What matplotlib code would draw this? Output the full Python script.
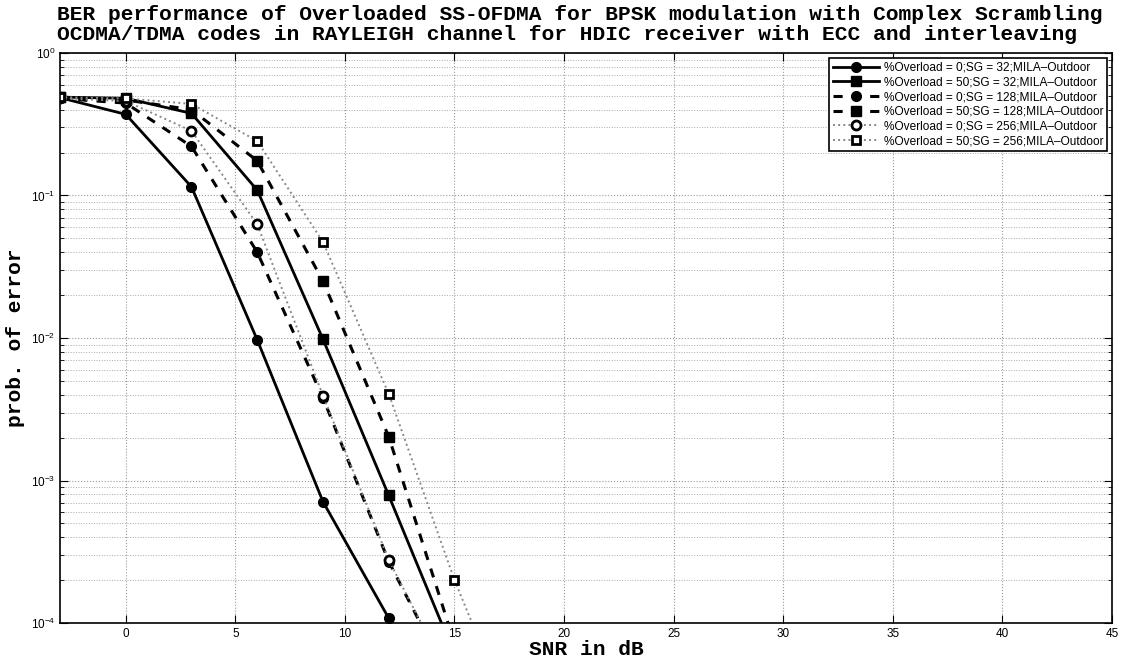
import numpy as np
import matplotlib
matplotlib.use('Agg')
import matplotlib.pyplot as plt
from matplotlib.ticker import LogLocator, NullFormatter

# SNR points (dB) and simulated bit error rates
snr = [-3, 0, 3, 6, 9, 12, 15, 18]

ber_0_sg32 = [0.486, 0.371, 0.115, 0.0097, 7.1e-4, 1.08e-4, 2e-6, 1e-7]
ber_50_sg32 = [0.49, 0.481, 0.377, 0.109, 0.0098, 7.85e-4, 6e-5, 4e-6]
ber_0_sg128 = [0.48, 0.445, 0.221, 0.040, 0.0038, 2.7e-4, 3.4e-5, 2e-6]
ber_50_sg128 = [0.49, 0.468, 0.40, 0.175, 0.0251, 2.03e-3, 7.2e-5, 5e-6]
ber_0_sg256 = [0.48, 0.46, 0.284, 0.0628, 0.00394, 2.77e-4, 3.5e-5, 2e-6]
ber_50_sg256 = [0.49, 0.48, 0.439, 0.241, 0.0472, 4.05e-3, 2.0e-4, 1.5e-5]

labels = ['%Overload = 0;SG = 32;MILA–Outdoor',
          '%Overload = 50;SG = 32;MILA–Outdoor',
          '%Overload = 0;SG = 128;MILA–Outdoor',
          '%Overload = 50;SG = 128;MILA–Outdoor',
          '%Overload = 0;SG = 256;MILA–Outdoor',
          '%Overload = 50;SG = 256;MILA–Outdoor']

plt.rcParams['font.family'] = ['Liberation Sans', 'DejaVu Sans']

fig = plt.figure(figsize=(11.21, 6.59), dpi=100)
ax = fig.add_axes([0.0535, 0.0546, 0.9385, 0.865])

ax.semilogy(snr, ber_0_sg32, 'k-', lw=2, marker='o', ms=7, label=labels[0])
ax.semilogy(snr, ber_50_sg32, 'k-', lw=2, marker='s', ms=6.5, label=labels[1])
ax.semilogy(snr, ber_0_sg128, 'k--', lw=2.2, marker='o', ms=7, dashes=(3, 3), label=labels[2])
ax.semilogy(snr, ber_50_sg128, 'k--', lw=2.2, marker='s', ms=6.5, dashes=(3, 3), label=labels[3])
ax.semilogy(snr, ber_0_sg256, ':', color='#888888', lw=1.4, marker='o', ms=6.5,
            mfc='white', mec='black', mew=2, label=labels[4])
ax.semilogy(snr, ber_50_sg256, ':', color='#888888', lw=1.4, marker='s', ms=6,
            mfc='white', mec='black', mew=2, label=labels[5])

ax.set_xlim(-3, 45)
ax.set_ylim(1e-4, 1)
ax.set_xticks(range(0, 46, 5))
ax.yaxis.set_major_locator(LogLocator(base=10, numticks=10))
ax.yaxis.set_minor_locator(LogLocator(base=10, subs=np.arange(2, 10), numticks=50))
ax.yaxis.set_minor_formatter(NullFormatter())

ax.grid(True, which='major', ls=':', color='#999999', lw=0.8)
ax.grid(True, which='minor', axis='y', ls=':', color='#aaaaaa', lw=0.7)
ax.tick_params(which='both', direction='in', top=True, right=True, labelsize=8.5)
ax.tick_params(which='major', length=6)
ax.tick_params(which='minor', length=3)
for s in ax.spines.values():
    s.set_linewidth(1.2)

mono = {'family': 'Liberation Mono', 'weight': 'bold', 'size': 15.3}
ax.set_title('BER performance of Overloaded SS-OFDMA for BPSK modulation with Complex Scrambling\n'
             'OCDMA/TDMA codes in RAYLEIGH channel for HDIC receiver with ECC and interleaving',
             fontdict=mono, loc='left', x=-0.003, pad=9, linespacing=1.1)
ax.set_xlabel('SNR in dB', fontdict=mono, labelpad=0)
ax.set_ylabel('prob. of error', fontdict=mono, labelpad=4)

leg = ax.legend(loc='upper right', fontsize=8.6, frameon=True, fancybox=False,
                edgecolor='black', handlelength=3.8, labelspacing=0.22,
                borderaxespad=0.4, handletextpad=0.4, borderpad=0.35)
leg.get_frame().set_linewidth(1.2)
leg.get_frame().set_alpha(1)

fig.savefig('out.png', dpi=100)
